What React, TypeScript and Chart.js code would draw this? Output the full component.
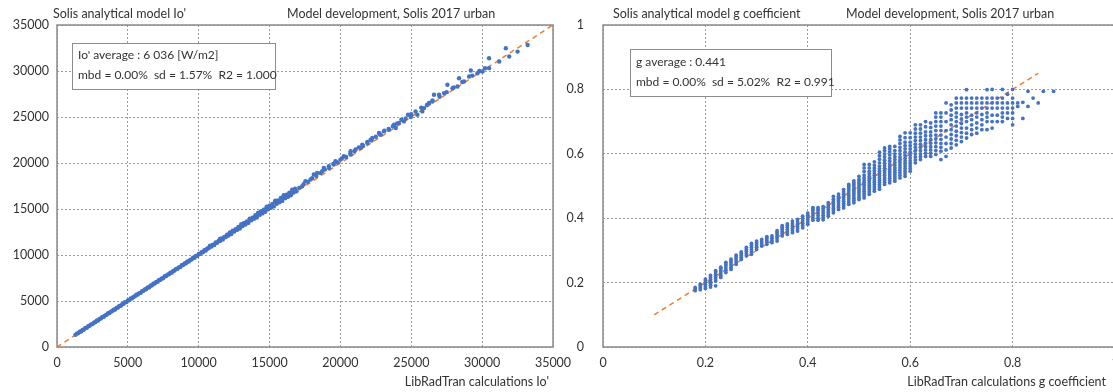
import React, { useEffect, useRef } from "react";
import { Chart, registerables } from "chart.js";

Chart.register(...registerables);

// ---------------- Data ----------------
const ioTicks = [0, 5000, 10000, 15000, 20000, 25000, 30000, 35000];
const gTicks = [0, 0.2, 0.4, 0.6, 0.8, 1];

// Io' : LibRadTran (x) vs Solis model (y)
const ioRef = [
  1300, 1500, 1700, 1900, 2100, 2300, 2500, 2700, 2900, 3100, 3300, 3500, 3700, 3900, 4100, 4300, 4500, 4700, 4900,
  5100, 5300, 5500, 5700, 5900, 6100, 6300, 6500, 6700, 6900, 7100, 7300, 7500, 7700, 7900, 8100, 8300, 8500, 8700,
  8900, 9100, 9300, 9500, 9700, 9900, 10100, 10300, 10500, 10700, 10900, 11100, 11300, 11500, 11700, 11900, 12100,
  12300, 12500, 12700, 12900, 13100, 13300, 13500, 13700, 13900, 14100, 14300, 14500, 14700, 14900, 15100, 15300,
  15500, 15700, 15900, 16100, 16300, 16500, 16700, 16900,
  1400, 1600, 1800, 2000, 2200, 2400, 2600, 2800, 3000, 3200, 3400, 3600, 3800, 4000, 4200, 4400, 4600, 4800, 5000,
  5200, 5400, 5600, 5800, 6000, 6200, 6400, 6600, 6800, 7000, 7200, 7400, 7600, 7800, 8000, 8200, 8400, 8600, 8800,
  9000, 9200, 9400, 9600, 9800, 10000, 10200, 10400, 10600, 10800, 11000, 11200, 11400, 11600, 11800, 12000, 12200,
  12400, 12600, 12800, 13000, 13200, 13400, 13600, 13800, 14000, 14200, 14400, 14600, 14800, 15000, 15200, 15400,
  15600, 15800, 16000, 16200, 16400, 16600, 16800,
  10800, 11500, 12200, 13000, 13600, 14200, 14800, 15400, 16000, 16600,
  17100, 17400, 17700, 18000, 18300, 18600, 18900, 19200, 19500, 19800, 20100, 20400, 20700, 21000, 21300, 21600,
  21900, 22200, 22500, 22800, 23100, 23400, 23700, 24000, 24300, 24600, 25000, 25300, 25700, 26100, 26500, 27000,
  27500, 28000, 28600, 29300, 29800, 30200,
  17300, 17530, 17890, 18120, 18360, 18710, 18830, 19180, 19530, 19650, 20010, 20240, 20720, 20720, 21070, 21420,
  21540, 21900, 22130, 22250, 22720, 22840, 23070, 23420, 23780, 23900, 24130, 24480, 24770, 24960, 25430, 25780,
  25900, 26250, 26490, 26600, 26960, 27310, 27550, 27910, 28260, 28370, 28720, 29080, 29200, 29670, 30030, 30490,
  30490, 31200, 31670, 31910, 32500, 33210,
];
const ioModel = [
  1320, 1510, 1690, 1900, 2080, 2310, 2490, 2700, 2880, 3110, 3290, 3500, 3690, 3910, 4080, 4300, 4490, 4710, 4880,
  5110, 5290, 5520, 5700, 5880, 6120, 6300, 6480, 6720, 6900, 7090, 7310, 7490, 7720, 7900, 8080, 8310, 8500, 8690,
  8920, 9100, 9290, 9520, 9700, 9890, 10130, 10300, 10490, 10730, 10920, 11090, 11330, 11520, 11690, 11940, 12120,
  12290, 12540, 12730, 12880, 13150, 13320, 13490, 13760, 13930, 14080, 14360, 14520, 14690, 14960, 15140, 15280,
  15570, 15730, 15880, 16180, 16320, 16490, 16790, 16930,
  1450, 1660, 1840, 2060, 2250, 2460, 2640, 2870, 3040, 3260, 3440, 3670, 3850, 4060, 4240, 4470, 4650, 4860, 5060,
  5270, 5450, 5680, 5860, 6070, 6250, 6480, 6650, 6880, 7060, 7280, 7450, 7690, 7870, 8080, 8270, 8490, 8660, 8890,
  9080, 9300, 9470, 9700, 9890, 10110, 10300, 10530, 10700, 10940, 11130, 11360, 11520, 11790, 11950, 12210, 12380,
  12630, 12800, 13050, 13220, 13480, 13640, 13900, 14060, 14330, 14480, 14760, 14920, 15180, 15360, 15560, 15780,
  15920, 16200, 16340, 16560, 16780, 16950, 17200,
  11000, 11750, 12450, 13350, 13950, 14600, 15250, 15900, 16500, 17100,
  17300, 17700, 17950, 18350, 18600, 18900, 19300, 19450, 19900, 20050, 20500, 20650, 21050, 21300, 21700, 21850,
  22300, 22450, 22850, 23100, 23500, 23700, 24000, 24300, 24700, 24850, 25300, 25600, 26000, 26300, 26800, 27200,
  27700, 28200, 28800, 29500, 30000, 30300,
  17480, 18020, 18200, 18750, 18930, 19100, 19470, 19650, 19830, 20190, 20370, 20730, 21270, 20910, 21460, 21640,
  22000, 22180, 22540, 22720, 23260, 23080, 23440, 23620, 24160, 23800, 24350, 24520, 25250, 25000, 25250, 25610,
  25970, 26520, 26690, 27420, 27420, 27600, 28500, 28130, 28310, 29220, 28860, 29400, 30050, 29760, 29940, 31390,
  30310, 31030, 32470, 31570, 32110, 32830,
];
const ioDiagonal = [0, 35000];

// g coefficient : columns of LibRadTran value (x) with Solis model values (y)
const gRef = [
  0.18, 0.19, 0.2, 0.21, 0.22, 0.23, 0.24, 0.25, 0.26, 0.27, 0.28, 0.29, 0.3, 0.31, 0.32, 0.33, 0.34, 0.35, 0.36,
  0.37, 0.38, 0.39, 0.4, 0.41, 0.42, 0.43, 0.44, 0.45, 0.46, 0.47, 0.48, 0.49, 0.5, 0.51, 0.52, 0.53, 0.54, 0.55,
  0.56, 0.57, 0.58, 0.59, 0.6, 0.61, 0.62, 0.63, 0.64, 0.65, 0.66, 0.67, 0.68, 0.69, 0.7, 0.71, 0.72, 0.73, 0.74,
  0.75, 0.76, 0.77, 0.78, 0.79, 0.8, 0.81, 0.82, 0.83, 0.84, 0.85, 0.86, 0.88,
];
const gModel: number[][] = [
  [0.175, 0.18, 0.185],
  [0.178, 0.184, 0.19, 0.195],
  [0.182, 0.188, 0.194, 0.2, 0.206, 0.211],
  [0.186, 0.192, 0.198, 0.204, 0.21, 0.216, 0.222],
  [0.19, 0.205, 0.212, 0.219, 0.226, 0.233, 0.237],
  [0.216, 0.223, 0.23, 0.237, 0.244, 0.248],
  [0.231, 0.238, 0.245, 0.252, 0.258, 0.263],
  [0.241, 0.248, 0.255, 0.262, 0.268, 0.273],
  [0.257, 0.264, 0.271, 0.278, 0.285],
  [0.272, 0.278, 0.284, 0.29, 0.295],
  [0.283, 0.29, 0.297, 0.303, 0.309],
  [0.288, 0.295, 0.302, 0.309, 0.316, 0.322],
  [0.303, 0.31, 0.317, 0.323, 0.329],
  [0.314, 0.32, 0.327, 0.334],
  [0.319, 0.325, 0.331, 0.337, 0.343],
  [0.324, 0.331, 0.338, 0.345],
  [0.329, 0.336, 0.343, 0.35, 0.356, 0.361],
  [0.345, 0.352, 0.359, 0.366, 0.372, 0.377],
  [0.35, 0.357, 0.364, 0.371, 0.377, 0.382],
  [0.355, 0.362, 0.369, 0.376, 0.383, 0.391],
  [0.36, 0.367, 0.374, 0.381, 0.388, 0.396],
  [0.37, 0.377, 0.384, 0.391, 0.398, 0.406],
  [0.381, 0.388, 0.395, 0.402, 0.409, 0.416],
  [0.394, 0.401, 0.408, 0.415, 0.422, 0.428, 0.433],
  [0.394, 0.401, 0.408, 0.415, 0.422, 0.428, 0.433],
  [0.395, 0.402, 0.409, 0.416, 0.423, 0.43, 0.436],
  [0.406, 0.413, 0.42, 0.427, 0.434, 0.441, 0.448],
  [0.417, 0.424, 0.431, 0.438, 0.445, 0.452, 0.459, 0.468],
  [0.427, 0.434, 0.441, 0.448, 0.455, 0.462, 0.468, 0.475],
  [0.432, 0.439, 0.446, 0.453, 0.46, 0.467, 0.474, 0.481, 0.489],
  [0.443, 0.45, 0.457, 0.464, 0.471, 0.478, 0.485, 0.492, 0.499, 0.505],
  [0.448, 0.455, 0.462, 0.469, 0.476, 0.483, 0.49, 0.497, 0.504, 0.51, 0.516],
  [0.458, 0.465, 0.472, 0.479, 0.486, 0.493, 0.5, 0.507, 0.514, 0.521, 0.53],
  [0.463, 0.47, 0.477, 0.484, 0.491, 0.498, 0.505, 0.512, 0.519, 0.526, 0.534, 0.545, 0.556, 0.567],
  [0.474, 0.481, 0.488, 0.495, 0.502, 0.509, 0.516, 0.523, 0.53, 0.538, 0.546, 0.556, 0.567],
  [0.484, 0.491, 0.498, 0.505, 0.512, 0.519, 0.526, 0.533, 0.54, 0.548, 0.556, 0.565, 0.575],
  [0.49, 0.497, 0.504, 0.511, 0.518, 0.525, 0.532, 0.539, 0.546, 0.554, 0.562, 0.572, 0.583, 0.594, 0.605],
  [0.505, 0.512, 0.519, 0.526, 0.533, 0.54, 0.547, 0.555, 0.563, 0.571, 0.58, 0.59, 0.6, 0.61, 0.618],
  [0.51, 0.517, 0.524, 0.531, 0.538, 0.545, 0.552, 0.56, 0.568, 0.577, 0.586, 0.596, 0.606, 0.615, 0.623],
  [0.515, 0.522, 0.529, 0.536, 0.543, 0.55, 0.557, 0.565, 0.573, 0.582, 0.591, 0.6, 0.61, 0.623],
  [0.525, 0.533, 0.541, 0.549, 0.557, 0.565, 0.573, 0.581, 0.59, 0.6, 0.61, 0.62, 0.632, 0.643, 0.654],
  [0.53, 0.538, 0.546, 0.554, 0.562, 0.57, 0.578, 0.586, 0.595, 0.605, 0.615, 0.625, 0.636, 0.65, 0.665],
  [0.546, 0.554, 0.562, 0.57, 0.578, 0.587, 0.596, 0.605, 0.615, 0.625, 0.636, 0.65, 0.665],
  [0.572, 0.581, 0.59, 0.6, 0.61, 0.62, 0.63, 0.641, 0.652, 0.664, 0.677, 0.69],
  [0.582, 0.591, 0.6, 0.61, 0.62, 0.63, 0.641, 0.652, 0.664, 0.677, 0.69],
  [0.592, 0.602, 0.612, 0.622, 0.633, 0.644, 0.656, 0.668, 0.684, 0.7],
  [0.592, 0.602, 0.612, 0.622, 0.633, 0.644, 0.656, 0.668, 0.682, 0.696],
  [0.598, 0.61, 0.622, 0.634, 0.646, 0.658, 0.672, 0.686, 0.7, 0.714, 0.727],
  [0.582, 0.608, 0.62, 0.632, 0.645, 0.658, 0.672, 0.686, 0.7, 0.714, 0.727],
  [0.592, 0.612, 0.632, 0.652, 0.672, 0.7, 0.727, 0.758],
  [0.618, 0.632, 0.646, 0.66, 0.675, 0.69, 0.706, 0.72, 0.736, 0.752],
  [0.628, 0.642, 0.656, 0.67, 0.686, 0.7, 0.714, 0.727, 0.742, 0.758, 0.773],
  [0.638, 0.652, 0.666, 0.68, 0.694, 0.708, 0.722, 0.742, 0.758, 0.773],
  [0.649, 0.664, 0.68, 0.7, 0.714, 0.727, 0.742, 0.758, 0.773, 0.799],
  [0.66, 0.675, 0.69, 0.706, 0.72, 0.742, 0.758, 0.773],
  [0.664, 0.68, 0.696, 0.714, 0.727, 0.742, 0.758, 0.773],
  [0.675, 0.69, 0.706, 0.722, 0.742, 0.758, 0.773],
  [0.675, 0.7, 0.714, 0.727, 0.742, 0.758, 0.773, 0.799],
  [0.68, 0.7, 0.72, 0.742, 0.758, 0.773, 0.8],
  [0.7, 0.72, 0.742, 0.758, 0.773],
  [0.7, 0.714, 0.727, 0.742, 0.758, 0.773, 0.8],
  [0.71, 0.727, 0.742, 0.758, 0.785],
  [0.69, 0.71, 0.727, 0.742, 0.758, 0.773, 0.8],
  [0.747, 0.758],
  [0.71, 0.76],
  [0.747, 0.794],
  [0.773],
  [0.758],
  [0.794],
  [0.794],
];
const gDiagonal = [0.1, 0.85];

// ---------------- Styling ----------------
const FONT = "Lato, 'Open Sans', sans-serif";
const TEXT = "#333333";
const BLUE = "#4472C4";
const ORANGE = "#ED7D31";

const framePlugin = {
  id: "frame",
  beforeDatasetsDraw(chart: any) {
    const { ctx, chartArea } = chart;
    const { left, top, right, bottom } = chartArea;
    ctx.save();
    ctx.strokeStyle = "#8a8a8a";
    ctx.lineWidth = 1.5;
    ctx.strokeRect(left, top, right - left, bottom - top);
    ctx.restore();
  },
};

function axis(min: number, max: number, ticks: number[], isY: boolean, size: number, pad: number, fmt: (v: number) => string) {
  return {
    type: "linear",
    min,
    max,
    afterBuildTicks: (s: any) => {
      s.ticks = ticks.map((v) => ({ value: v }));
    },
    afterFit: (s: any) => {
      if (isY) s.width = size;
      else s.height = size;
      s.paddingLeft = 0;
      s.paddingRight = 0;
      s.paddingTop = 0;
      s.paddingBottom = 0;
    },
    ticks: {
      autoSkip: false,
      maxRotation: 0,
      padding: pad,
      color: TEXT,
      font: { family: FONT, size: 12.5 },
      callback: (v: any) => fmt(Number(v)),
    },
    grid: {
      color: "#9c9c9c",
      lineWidth: 1,
      drawTicks: false,
      tickLength: 0,
    },
    border: { display: false, dash: [2, 2] },
  };
}

function ScatterPanel(props: {
  points: { x: number; y: number }[];
  diag: number[];
  xTicks: number[];
  yTicks: number[];
  min: number;
  max: number;
  yWidth: number;
  yPad: number;
  width: number;
  padRight: number;
  radius: number;
  fmt: (v: number) => string;
}) {
  const ref = useRef<HTMLCanvasElement>(null);
  useEffect(() => {
    if (!ref.current) return;
    const chart = new Chart(ref.current, {
      type: "scatter",
      data: {
        datasets: [
          {
            data: props.points,
            pointRadius: props.radius,
            pointBorderWidth: 0,
            backgroundColor: BLUE,
            borderColor: BLUE,
          },
          {
            data: props.diag.map((v) => ({ x: v, y: v })),
            showLine: true,
            borderColor: ORANGE,
            borderWidth: 1.5,
            borderDash: [5, 4],
            pointRadius: 0,
            fill: false,
          } as any,
        ],
      },
      options: {
        animation: false,
        responsive: false,
        devicePixelRatio: 1,
        layout: { padding: { left: 0, right: props.padRight, top: 25, bottom: 0 } },
        plugins: { legend: { display: false }, tooltip: { enabled: false } },
        scales: {
          x: axis(props.min, props.max, props.xTicks, false, 45, 8, props.fmt) as any,
          y: axis(props.min, props.max, props.yTicks, true, props.yWidth, props.yPad, props.fmt) as any,
        },
      },
      plugins: [framePlugin],
    });
    return () => chart.destroy();
  }, []);
  return <canvas ref={ref} width={props.width} height={392} style={{ display: "block" }} />;
}

const txt: React.CSSProperties = {
  position: "absolute",
  fontFamily: FONT,
  fontSize: 12,
  color: TEXT,
  whiteSpace: "nowrap",
  lineHeight: "14px",
};

export default function App() {
  const ioPoints = ioRef.map((x, i) => ({ x, y: ioModel[i] }));
  const gPoints: { x: number; y: number }[] = [];
  gRef.forEach((x, i) => gModel[i].forEach((y) => gPoints.push({ x, y })));
  const fmtIo = (v: number) => String(v);
  const fmtG = (v: number) => String(Math.round(v * 10) / 10);

  return (
    <div
      style={{
        position: "absolute",
        left: 0,
        top: 0,
        width: 1113,
        height: 392,
        overflow: "hidden",
        background: "#ffffff",
      }}
    >
      <div style={{ position: "absolute", left: 0, top: 0 }}>
        <ScatterPanel
          points={ioPoints}
          diag={ioDiagonal}
          xTicks={ioTicks}
          yTicks={ioTicks}
          min={0}
          max={35000}
          yWidth={57}
          yPad={8}
          width={600}
          padRight={47}
          radius={2.2}
          fmt={fmtIo}
        />
      </div>
      <div style={{ position: "absolute", left: 560, top: 0 }}>
        <ScatterPanel
          points={gPoints}
          diag={gDiagonal}
          xTicks={gTicks}
          yTicks={gTicks}
          min={0}
          max={1}
          yWidth={43}
          yPad={19}
          width={560}
          padRight={5}
          radius={1.9}
          fmt={fmtG}
        />
      </div>

      <div style={{ ...txt, left: 53, top: 7, fontSize: 12.5 }}>Solis analytical model Io'</div>
      <div style={{ ...txt, left: 287, top: 7, fontSize: 12.5 }}>Model development, Solis 2017 urban</div>
      <div style={{ ...txt, left: 613, top: 7, fontSize: 12.5 }}>Solis analytical model g coefficient</div>
      <div style={{ ...txt, left: 846, top: 7, fontSize: 12.5 }}>Model development, Solis 2017 urban</div>

      <div
        style={{
          position: "absolute",
          left: 72,
          top: 43,
          width: 204,
          height: 47,
          border: "1px solid #8c8c8c",
          background: "#ffffff",
          boxSizing: "border-box",
        }}
      />
      <div style={{ ...txt, left: 78, top: 48 }}>Io' average : 6 036 [W/m2]</div>
      <div style={{ ...txt, left: 78, top: 68 }}>mbd = 0.00%&nbsp;&nbsp;sd = 1.57%&nbsp;&nbsp;R2 = 1.000</div>

      <div
        style={{
          position: "absolute",
          left: 630,
          top: 49,
          width: 202,
          height: 48,
          border: "1px solid #8c8c8c",
          background: "#ffffff",
          boxSizing: "border-box",
        }}
      />
      <div style={{ ...txt, left: 636, top: 55 }}>g average : 0.441</div>
      <div style={{ ...txt, left: 636, top: 75 }}>mbd = 0.00%&nbsp;&nbsp;sd = 5.02%&nbsp;&nbsp;R2 = 0.991</div>

      <div style={{ ...txt, right: 1113 - 549, top: 375, fontSize: 12.5 }}>LibRadTran calculations Io'</div>
      <div style={{ ...txt, right: 1113 - 1106, top: 375, fontSize: 12.5 }}>LibRadTran calculations g coefficient</div>
    </div>
  );
}
